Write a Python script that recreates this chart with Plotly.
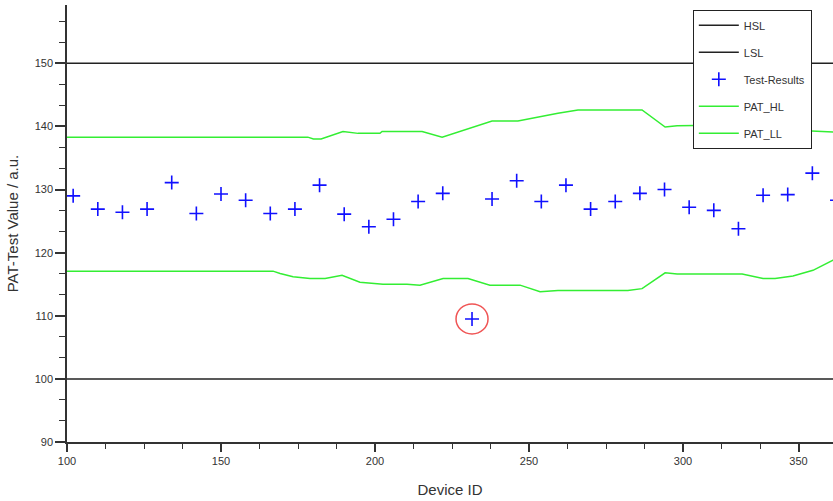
import plotly.graph_objects as go

# ---- data ----
device_ids = [102, 110, 118, 126, 134, 142, 150, 158, 166, 174, 182, 190, 198, 206,
              214, 222, 231.5, 238, 246, 254, 262, 270, 278, 286, 294, 302, 310, 318,
              326, 334, 342, 350]
test_results = [129.0, 126.9, 126.4, 126.9, 131.1, 126.2, 129.3, 128.3, 126.2, 126.9,
                130.7, 126.1, 124.1, 125.3, 128.1, 129.4, 109.5, 128.5, 131.4, 128.1,
                130.7, 126.9, 128.1, 129.4, 130.0, 127.2, 126.7, 123.8, 129.1, 129.2,
                132.6, 128.3]

hl_x = [100, 178.2, 180, 182.5, 189.6, 194.5, 201.6, 202.3, 215.3, 221.8, 238, 246.4,
        259.4, 265.9, 286.7, 294.2, 298.1, 310, 340, 350]
pat_hl = [138.3, 138.3, 138.0, 138.0, 139.2, 138.9, 138.9, 139.2, 139.2, 138.3, 140.85,
          140.85, 142.1, 142.6, 142.6, 139.9, 140.1, 140.2, 139.3, 139.1]

ll_x = [100, 166.9, 169.2, 173.4, 178.9, 183.8, 189.3, 195.1, 202.6, 210.4, 214.6,
        222.1, 230.2, 237.3, 247.1, 253.6, 259.4, 282.1, 286.7, 294.2, 298.1, 319.2,
        326, 329.9, 335.7, 342.2, 348.7, 350]
pat_ll = [117.07, 117.07, 116.7, 116.2, 115.9, 115.9, 116.4, 115.3, 115.0, 115.0, 114.85,
          115.9, 115.9, 114.85, 114.85, 113.8, 114.0, 114.0, 114.3, 116.8, 116.6, 116.6,
          115.9, 115.9, 116.3, 117.2, 118.8, 119.0]

HSL = 150
LSL = 100
x_span = [100, 350]
outlier_id = 231.5
outlier_val = 109.5

x_tickvals = [100, 150, 200, 250, 300, 337.5]
x_ticktext = ["100", "150", "200", "250", "300", "350"]

FONT = "Liberation Sans, Arial, sans-serif"

fig = go.Figure()
fig.add_trace(go.Scatter(x=x_span, y=[HSL, HSL], mode="lines", name="HSL",
                         line=dict(color="#222222", width=1.5), legendgroup="a"))
fig.add_trace(go.Scatter(x=x_span, y=[LSL, LSL], mode="lines", name="LSL",
                         line=dict(color="#222222", width=1.5), legendgroup="b"))
fig.add_trace(go.Scatter(x=device_ids, y=test_results, mode="markers", name="Test-Results",
                         marker=dict(symbol="cross-thin", size=10,
                                     line=dict(color="#1010ff", width=1.6)),
                         legendgroup="c"))
fig.add_trace(go.Scatter(x=hl_x, y=pat_hl, mode="lines", name="PAT_HL",
                         line=dict(color="#33ee33", width=1.5), legendgroup="d"))
fig.add_trace(go.Scatter(x=ll_x, y=pat_ll, mode="lines", name="PAT_LL",
                         line=dict(color="#33ee33", width=1.5), legendgroup="e"))

fig.add_shape(type="circle", xref="x", yref="y", xsizemode="pixel", ysizemode="pixel",
              xanchor=outlier_id, yanchor=outlier_val, x0=-16, x1=16, y0=-15, y1=15,
              line=dict(color="#f05555", width=1.5))

fig.update_layout(
    width=833, height=501,
    margin=dict(l=67, r=0, t=5, b=59),
    paper_bgcolor="white", plot_bgcolor="white",
    font=dict(family=FONT, color="#333333", size=11),
    showlegend=True,
    legend=dict(x=0.817, y=0.989, xanchor="left", yanchor="top",
                bgcolor="white", bordercolor="#222222", borderwidth=1,
                font=dict(size=11, family=FONT, color="#333333"),
                traceorder="grouped", tracegroupgap=8,
                itemwidth=40),
)
fig.update_xaxes(
    range=[100, 348.7], showgrid=False, zeroline=False,
    showline=True, linecolor="#333333", linewidth=1.5,
    tickmode="array", tickvals=x_tickvals, ticktext=x_ticktext,
    ticks="outside", ticklen=8, tickwidth=1.5, tickcolor="#333333",
    tickfont=dict(size=11, color="#333333"),
    minor=dict(ticks="outside", ticklen=5, tickwidth=1.2, tickcolor="#333333",
               tickmode="linear", tick0=100, dtick=12.5),
    title=dict(text="Device ID", font=dict(size=15, color="#333333"), standoff=19),
)
fig.update_yaxes(
    range=[90, 159.24], showgrid=False, zeroline=False,
    showline=True, linecolor="#333333", linewidth=1.5,
    tickmode="linear", tick0=90, dtick=10,
    ticks="outside", ticklen=10, tickwidth=1.5, tickcolor="#333333",
    tickfont=dict(size=11, color="#333333"),
    minor=dict(ticks="outside", ticklen=6, tickwidth=1.2, tickcolor="#333333",
               tickmode="linear", tick0=90, dtick=10 / 3),
    title=dict(text="PAT-Test Value / a.u.", font=dict(size=15, color="#333333"), standoff=12),
)

fig.write_html("out.html")
